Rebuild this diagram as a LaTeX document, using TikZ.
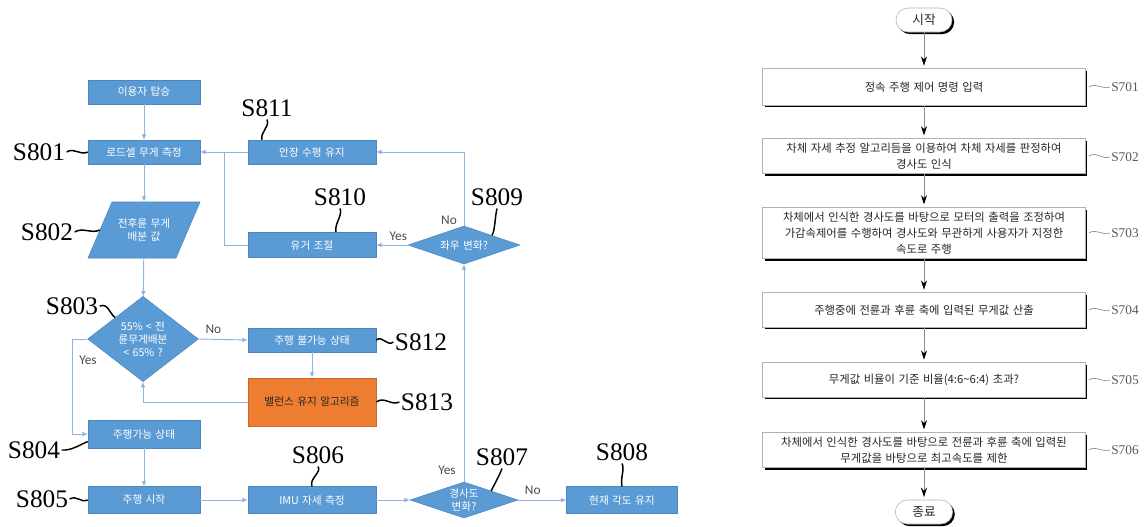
\documentclass[tikz,border=0pt]{standalone}
\usepackage{fontspec}
\setmainfont{Liberation Serif}
\newfontfamily\kor{Noto Sans CJK KR}
\newfontfamily\korw{Noto Sans CJK KR}[WordSpace=1.4]
\newfontfamily\yesnofont{Carlito}
\usepackage{tikz}
\usetikzlibrary{shapes.geometric, arrows.meta, positioning, shadows}
\definecolor{boxblue}{HTML}{5B9BD5}
\definecolor{boxedge}{HTML}{4A86C0}
\definecolor{orng}{HTML}{ED7D31}
\definecolor{flowline}{HTML}{8DB3E2}

\begin{document}
\begin{tikzpicture}[x=0.75pt, y=-0.75pt,
    bluebox/.style={draw=boxedge, fill=boxblue, text=white, font=\kor\fontsize{8}{10}\selectfont,
        minimum width=84pt, minimum height=18pt, inner sep=1pt},
    widebox/.style={bluebox, minimum width=96pt},
    decision/.style={bluebox, diamond, inner sep=0pt, align=center, font=\kor\fontsize{8}{9.5}\selectfont},
    flow/.style={draw=flowline, line width=0.7pt, -{Latex[length=4pt, width=3.5pt]}},
    steplabel/.style={font=\fontsize{19}{19}\selectfont, inner sep=0pt},
    squig/.style={line width=1.1pt},
    yesno/.style={font=\yesnofont\fontsize{10}{10}\selectfont, text=black!70, inner sep=0pt},
    procbox/.style={draw=black!30, fill=white, minimum width=242pt, align=center,
        font=\korw\fontsize{8.5}{12}\selectfont, text=black!85,
        general shadow={fill=black, shadow xshift=1.6pt, shadow yshift=-1.6pt}},
    termbox/.style={procbox, minimum width=42pt, minimum height=18pt, rounded corners=9pt,
        font=\kor\fontsize{9.5}{10}\selectfont},
    rflow/.style={draw=black!45, line width=0.6pt, -{Stealth[length=7pt, width=4.5pt, color=black]}, shorten >=2pt},
    rlabel/.style={font=\fontsize{10}{10}\selectfont, text=black!65, inner sep=0pt},
    tilde/.style={draw=black!45, line width=0.5pt}
]
\fill[white] (0,0) rectangle (1147,526);
\useasboundingbox (0,0) rectangle (1147,526);

% left flow chart
\node (s800) [bluebox] at (144,92) {이용자 탑승};
\node (s801) [bluebox] at (144,152) {로드셀 무게 측정};
\node (s811) [widebox] at (312,152) {안장 수평 유지};
\node (s810) [widebox, minimum height=19pt] at (312,245) {유거 조절};
\node (s809) [decision, aspect=2.5, minimum width=84pt, minimum height=28.5pt] at (464,245) {좌우 변화?};
\fill[boxblue, draw=boxedge] (88,258) -- (112,202) -- (200,202) -- (176,258) -- cycle;
\node (s802) [bluebox, draw=none, fill=none, align=center, minimum width=66pt, minimum height=42pt] at (144,230) {전후륜 무게\\배분 값};
\node (s803) [decision, aspect=1.3, minimum width=83pt, minimum height=64pt] at (143,339) {55\% < 전\\륜무게배분\\< 65\% ?};
\node (s812) [widebox] at (312,340) {주행 불가능 상태};
\node (s813) [widebox, fill=orng, draw=orng!85!black, text=black!85, minimum height=36pt] at (312,402) {밸런스 유지 알고리즘};
\node (s804) [bluebox, minimum height=21pt] at (144,434) {주행가능 상태};
\node (s805) [bluebox, minimum height=20pt] at (144,500) {주행 시작};
\node (s806) [widebox, minimum height=20pt] at (312,500) {IMU 자세 측정};
\node (s807) [decision, aspect=3, minimum width=81pt, minimum height=27pt] at (464,500) {경사도\\변화?};
\node (s808) [bluebox, minimum width=83pt, minimum height=20pt] at (622,500) {현재 각도 유지};

\coordinate (merge) at (224,152);
\draw[flow] (s800) -- (s801);
\draw[flow] (s811) -- (s801);
\draw[draw=flowline, line width=0.7pt] (s810.west) -| (merge);
\draw[flow] (s801) -- (s802);
\draw[flow] (s802) -- (s803);
\draw[flow] (s803.east) -- (s812.west) node (no803) [yesno, pos=0.3, above=4pt] {No};
\draw[flow] (s812) -- (s813);
\draw[flow] (s813.west) -| (s803.south);
\draw[flow] (s803.west) -- ++(-15,0) |- (s804.west);
\node (yes803) [yesno] at (88,360) {Yes};
\draw[flow] (s804) -- (s805);
\draw[flow] (s805) -- (s806);
\draw[flow] (s806) -- (s807);
\draw[flow] (s807.east) -- (s808.west) node (no807) [yesno, pos=0.3, above=4pt] {No};
\draw[flow] (s807.north) -- (s809.south);
\node (yes807) [yesno] at (447,470) {Yes};
\draw[flow] (s809.west) -- (s810.east) node (yes809) [yesno, pos=0.3, above=3pt] {Yes};
\draw[flow] (s809.north) |- (s811.east);
\node (no809) [yesno] at (449,220) {No};

% step numbers
\node (l801) [steplabel] at (39,152) {S801};
\node (l802) [steplabel] at (47,232) {S802};
\node (l803) [steplabel] at (72,306) {S803};
\node (l804) [steplabel] at (34,450) {S804};
\node (l805) [steplabel] at (42,499) {S805};
\node (l806) [steplabel] at (318,455) {S806};
\node (l807) [steplabel] at (502,457) {S807};
\node (l808) [steplabel] at (622,452) {S808};
\node (l809) [steplabel] at (497,197) {S809};
\node (l810) [steplabel] at (340,197) {S810};
\node (l811) [steplabel] at (267,108) {S811};
\node (l812) [steplabel] at (421,342) {S812};
\node (l813) [steplabel] at (427,402) {S813};

\draw[squig] ([xshift=1pt]l801.east) .. controls +(8,-5) and +(-8,4) .. (s801.west);
\draw[squig] ([xshift=1pt]l802.east) .. controls +(8,-5) and +(-8,4) .. (s802.west);
\draw[squig] ([xshift=1pt]l803.east) .. controls +(9,-3) and +(-6,-4) .. (s803.north west);
\draw[squig] ([xshift=1pt]l804.east) .. controls +(10,1) and +(-6,2) .. ([yshift=5pt]s804.south west);
\draw[squig] ([xshift=1pt]l805.east) .. controls +(8,-4) and +(-8,3) .. (s805.west);
\draw[squig] ([yshift=-2pt]l806.south) .. controls +(4,6) and +(-3,-8) .. (s806.north);
\draw[squig] ([yshift=-2pt]l807.south) .. controls +(-3,8) and +(3,-6) .. (s807.north east);
\draw[squig] ([yshift=-2pt]l808.south) .. controls +(3,6) and +(-2,-8) .. (s808.north);
\draw[squig] ([yshift=-2pt]l809.south) .. controls +(-2,8) and +(3,-6) .. (s809.north east);
\draw[squig] ([yshift=-2pt]l810.south) .. controls +(3,7) and +(-2,-8) .. ([xshift=18pt]s810.north);
\draw[squig] ([yshift=-2pt]l811.south) .. controls +(3,8) and +(-2,-8) .. ([xshift=-37.5pt]s811.north);
\draw[squig] (s812.east) .. controls +(6,-5) and +(-6,5) .. ([xshift=-1pt]l812.west);
\draw[squig] (s813.east) .. controls +(8,-6) and +(-8,4) .. ([xshift=-1pt]l813.west);

% right flow chart
\node (start) [termbox] at (924,20) {시작};
\node (r701) [procbox, minimum height=27.5pt] at (924,87) {정속 주행 제어 명령 입력};
\node (r702) [procbox, minimum height=26pt] at (924,156) {차체 자세 추정 알고리듬을 이용하여 차체 자세를 판정하여\\경사도 인식};
\node (r703) [procbox, minimum height=37.5pt] at (924,233) {차체에서 인식한 경사도를 바탕으로 모터의 출력을 조정하여\\가감속제어를 수행하여 경사도와 무관하게 사용자가 지정한\\속도로 주행};
\node (r704) [procbox, minimum height=26pt] at (924,310) {주행중에 전륜과 후륜 축에 입력된 무게값 산출};
\node (r705) [procbox, minimum height=26pt] at (924,380) {무게값 비율이 기준 비율(4:6\textasciitilde6:4) 초과?};
\node (r706) [procbox, minimum height=26pt] at (924,450) {차체에서 인식한 경사도를 바탕으로 전륜과 후륜 축에 입력된\\무게값을 바탕으로 최고속도를 제한};
\node (stop) [termbox, minimum width=43pt] at (924,512) {종료};

\draw[rflow] (start) -- (r701);
\draw[rflow] (r701) -- (r702);
\draw[rflow] (r702) -- (r703);
\draw[rflow] (r703) -- (r704);
\draw[rflow] (r704) -- (r705);
\draw[rflow] (r705) -- (r706);
\draw[rflow] (r706) -- (stop);

\foreach \n/\y in {701/87, 702/157, 703/233, 704/310, 705/380, 706/450}{
    \node (l\n) [rlabel] at (1125,\y) {S\n};
    \draw[tilde] ([xshift=2.5pt]r\n.east) .. controls +(7,-5) and +(-7,3) .. ([xshift=-1pt]l\n.west);
}
\end{tikzpicture}
\end{document}
